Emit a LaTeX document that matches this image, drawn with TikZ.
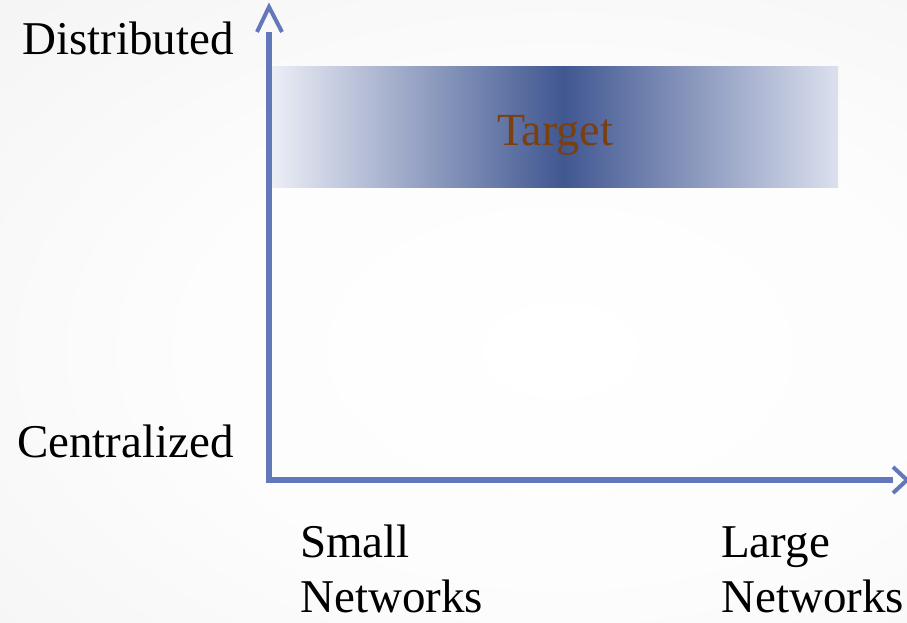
\documentclass[tikz,border=0pt]{standalone}
\usepackage{fontspec}
\setmainfont{Liberation Serif}
\usetikzlibrary{calc}

\definecolor{axisblue}{RGB}{98,120,186}
\definecolor{bandlightL}{RGB}{236,238,246}
\definecolor{bandlightR}{RGB}{220,224,238}
\definecolor{banddark}{RGB}{64,87,145}
\definecolor{targetbrown}{RGB}{123,63,16}

% soft grey backdrop, brightest in the middle
\pgfdeclareradialshading{backdrop}{\pgfpoint{0bp}{0bp}}{%
  color(0bp)=(white);
  color(15bp)=(white!99!black);
  color(32bp)=(white!95.5!black);
  color(50bp)=(white!93!black);
  color(80bp)=(white!91.5!black)}

\tikzset{
  axisline/.style={draw=axisblue, line width=6pt},
  chevron/.style={draw=axisblue, line width=4pt, line cap=butt, line join=miter},
  axislabel/.style={inner sep=0pt, font=\fontsize{47}{55}\selectfont, text=black},
  targetlabel/.style={inner sep=0pt, font=\fontsize{46}{55}\selectfont, text=targetbrown},
}

\begin{document}
\begin{tikzpicture}[x=1pt, y=-1pt]
  \useasboundingbox (0,0) rectangle (907,622);

  % backdrop
  \begin{scope}
    \clip (0,0) rectangle (907,622);
    \shade[shading=backdrop] (-100,-60) rectangle (1220,760);
  \end{scope}

  % target band: light at both ends, darkest near the middle
  \coordinate (bandTL) at (272,66);
  \coordinate (bandMid) at (563,187);
  \coordinate (bandBR) at (838,187);
  \shade[left color=bandlightL, right color=banddark, draw=none]
    (bandTL) rectangle (bandMid);
  \shade[left color=banddark, right color=bandlightR, draw=none]
    (bandMid |- bandTL) rectangle (bandBR);
  \node[targetlabel, anchor=base] (target) at (555,145) {Target};

  % axes
  \coordinate (origin) at (269,483);
  \coordinate (ybase) at (269,32);
  \coordinate (ytip) at (269,7);
  \coordinate (xstart) at (266,480);
  \coordinate (xbase) at (893,480);
  \coordinate (xtip) at (907,480);

  \draw[axisline] (origin) -- (ybase);
  \draw[axisline] (xstart) -- (xbase);
  \draw[chevron] ($(ytip)+(-12,25)$) -- (ytip) -- ($(ytip)+(13,25)$);
  \draw[chevron] ($(xtip)+(-14,-13)$) -- (xtip) -- ($(xtip)+(-14,13)$);

  % axis labels
  \node[axislabel, anchor=base east] (dist) at (234,54) {Distributed};
  \node[axislabel, anchor=base east] (cent) at (234,457) {Centralized};
  \node[axislabel, anchor=base west, align=left] (small) at (300,612) {Small\\Networks};
  \node[axislabel, anchor=base west, align=left] (large) at (721,612) {Large\\Networks};
\end{tikzpicture}
\end{document}
